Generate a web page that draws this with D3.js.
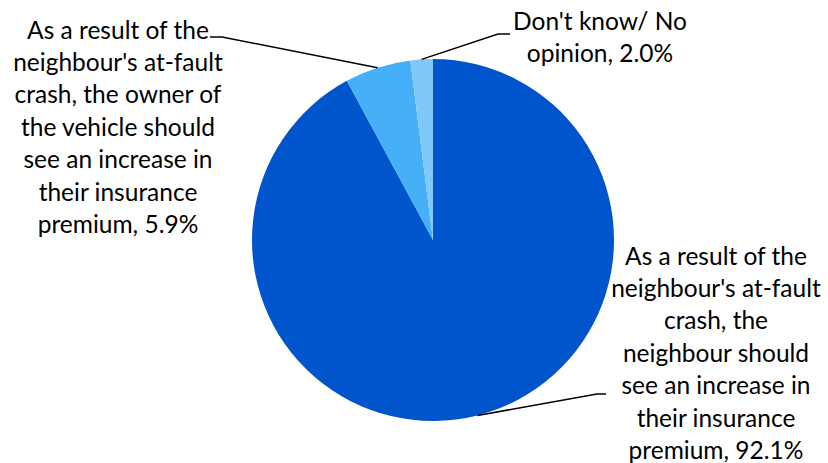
<!DOCTYPE html>
<html>
<head>
<meta charset="utf-8">
<script src="https://cdn.jsdelivr.net/npm/d3@7"></script>
<style>
  html, body { margin: 0; padding: 0; background: #fff; }
  svg text { font-family: Lato, "Open Sans", sans-serif; font-size: 24.5px; fill: #000; }
</style>
</head>
<body>
<svg id="chart" width="828" height="463"></svg>
<script>
// Survey responses, clockwise from 12 o'clock
const categories = [
  "As a result of the neighbour's at-fault crash, the neighbour should see an increase in their insurance premium",
  "As a result of the neighbour's at-fault crash, the owner of the vehicle should see an increase in their insurance premium",
  "Don't know/ No opinion"
];
const values = [92.1, 5.9, 2.0];
const colors = ["#0055CC", "#45B0F8", "#80C8F8"];

// Wrapped label lines for each slice
const labelLines = [
  ["As a result of the", "neighbour's at-fault", "crash, the", "neighbour should", "see an increase in", "their insurance", "premium, 92.1%"],
  ["As a result of the", "neighbour's at-fault", "crash, the owner of", "the vehicle should", "see an increase in", "their insurance", "premium, 5.9%"],
  ["Don't know/ No", "opinion, 2.0%"]
];

const svg = d3.select("#chart");
const cx = 433, cy = 240, r = 181;
const g = svg.append("g").attr("transform", `translate(${cx},${cy})`);

const pie = d3.pie().sort(null).value(d => d)
  .startAngle(0).endAngle(2 * Math.PI);
const arcs = pie(values);
const arc = d3.arc().innerRadius(0).outerRadius(r);

g.selectAll("path.slice")
  .data(arcs)
  .join("path")
  .attr("class", "slice")
  .attr("d", arc)
  .attr("fill", (d, i) => colors[i]);

// Label placement: text block centre, first-line centre y, and leader elbow
const labelLayout = [
  { x: 716, y: 256, elbow: [597, 394], end: [606, 394] },
  { x: 118, y: 30,  elbow: [222, 37],  end: [210, 37] },
  { x: 600, y: 21,  elbow: [498, 34],  end: [510, 34] }
];
const lineH = 32.4;

arcs.forEach((a, i) => {
  const mid = (a.startAngle + a.endAngle) / 2;
  const sx = cx + r * Math.sin(mid);
  const sy = cy - r * Math.cos(mid);
  const L = labelLayout[i];
  svg.append("polyline")
    .attr("points", [[sx, sy], L.elbow, L.end].map(p => p.join(",")).join(" "))
    .attr("fill", "none")
    .attr("stroke", "#000")
    .attr("stroke-width", 1.5);

  const t = svg.append("text").attr("text-anchor", "middle");
  labelLines[i].forEach((ln, j) => {
    t.append("tspan")
      .attr("x", L.x)
      .attr("y", L.y + j * lineH)
      .attr("dy", "0.35em")
      .text(ln);
  });
});
</script>
</body>
</html>
